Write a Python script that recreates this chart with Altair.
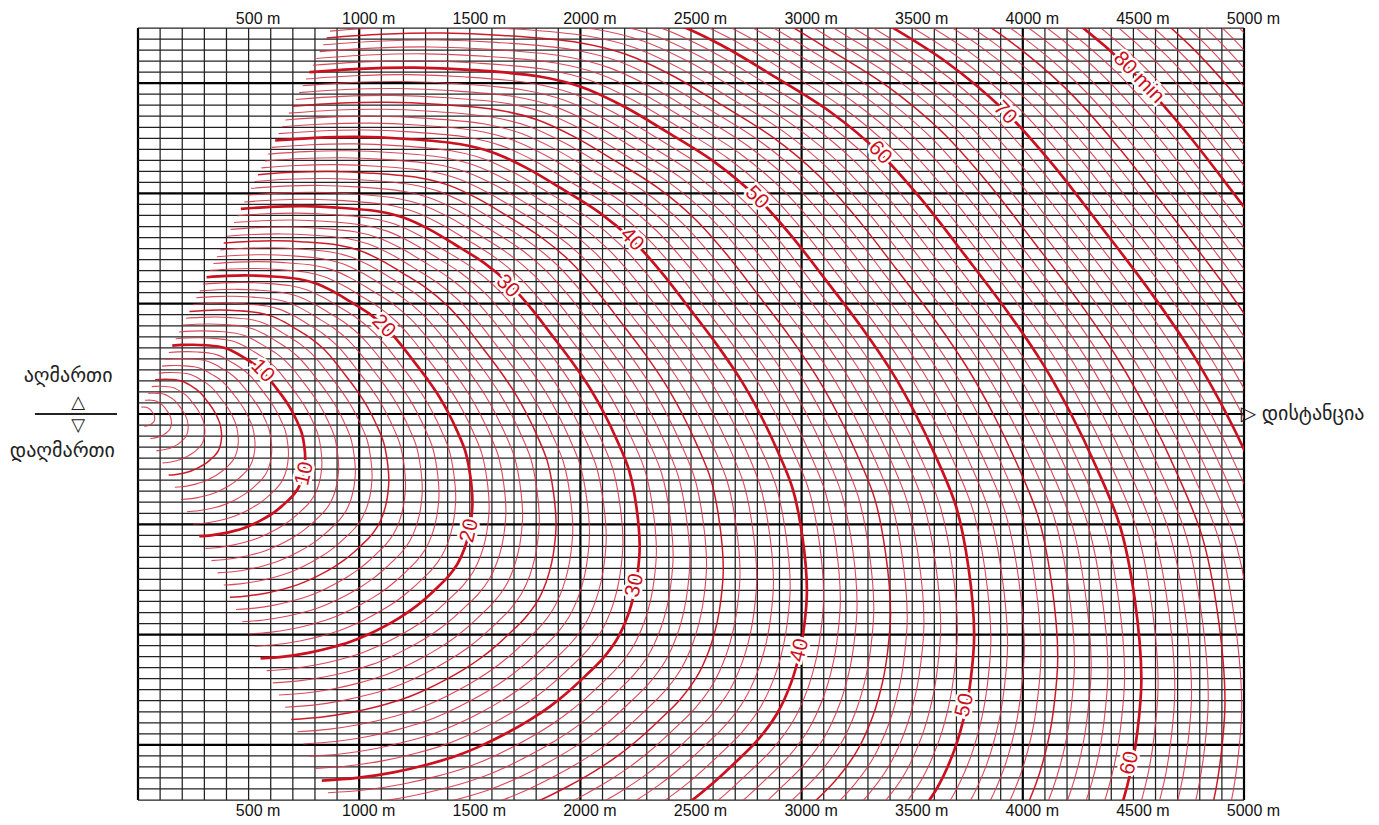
import altair as alt
import pandas as pd

# ---------------- data ----------------
X_TICKS = [500, 1000, 1500, 2000, 2500, 3000, 3500, 4000, 4500, 5000]
Y_TICKS = [-300, -200, -100, 0, 100, 200, 300]

# one isochrone, expressed per 10 minutes of walking (horizontal distance m, height m),
# read along the thick curves, from the 40 % ascent limit to the 40 % descent limit
UNIT_D = [155, 200, 250, 300, 363, 401, 439, 477, 522, 559, 590, 623, 655, 682, 703,
          722, 740, 751, 756, 753, 748, 738, 722, 700, 675, 648, 620, 590, 555, 520,
          480, 435, 385, 330, 277]
UNIT_H = [62.0, 62.6, 62.8, 62.4, 61.2, 59.3, 55.8, 51.3, 45.6, 39.4, 32.5, 24.0, 15.5, 7.5, 0.0,
          -8.0, -17.0, -28.0, -40.0, -48.0, -54.0, -61.0, -68.0, -74.0, -79.0, -84.0, -88.5, -92.5, -96.5, -100.0,
          -103.3, -106.0, -108.3, -110.0, -110.8]
MINUTES = list(range(1, 91))

UP_LABELS = ["10", "20", "30", "40", "50", "60", "70", "80 min"]
UP_LABEL_D = [563, 1110, 1671, 2232, 2797, 3354, 3919, 4524]
UP_LABEL_H = [38.9, 79.6, 115.7, 158.2, 196.2, 236.9, 273.0, 305.0]
LOW_LABELS = ["10", "20", "30", "40", "50", "60"]
LOW_LABEL_D = [753, 1499, 2246, 2992, 3738, 4484]
LOW_LABEL_H = [-54.2, -105.8, -155.5, -214.3, -264.0, -316.5]

LEFT_WORDS = ["აღმართი", "დაღმართი"]
LEFT_WORDS_D = [-316, -342]
LEFT_WORDS_H = [34.4, -33.5]
LEFT_TRI = ["△", "▽"]
LEFT_TRI_D = [-271, -271]
LEFT_TRI_H = [10.0, -10.8]
RIGHT_TEXT = ["▷", "დისტანცია"]
RIGHT_TEXT_D = [4985, 5080]
RIGHT_TEXT_H = [0, 0]
DIVIDER_D = [-466]
DIVIDER_D2 = [-95]

# ---------------- tables ----------------
FONT = "Liberation Sans"
GEO_FONT = "DejaVu Sans"
RED = "#cc1020"
RED_THIN = "#d6364a"

vg = pd.DataFrame({"d": list(range(0, 5001, 100))})
vg["sw"] = [2.2 if v % 1000 == 0 else 1.25 for v in vg["d"]]
vg["col"] = ["#000000" if v % 1000 == 0 else "#222222" for v in vg["d"]]

hg = pd.DataFrame({"h": list(range(-350, 351, 10))})
hg["sw"] = [2.2 if v % 100 == 0 else 1.25 for v in hg["h"]]
hg["col"] = ["#000000" if v % 100 == 0 else "#222222" for v in hg["h"]]

rows = []
for T in MINUTES:
    kind = "thick" if T % 10 == 0 else ("mid" if T % 5 == 0 else "thin")
    for i, (ud, uh) in enumerate(zip(UNIT_D, UNIT_H)):
        rows.append({"T": T, "i": i, "d": ud * T / 10.0, "h": uh * T / 10.0, "kind": kind})
curves = pd.DataFrame(rows)

up_lab = pd.DataFrame({"t": UP_LABELS, "d": UP_LABEL_D, "h": UP_LABEL_H})
low_lab = pd.DataFrame({"t": LOW_LABELS, "d": LOW_LABEL_D, "h": LOW_LABEL_H})
left_words = pd.DataFrame({"t": LEFT_WORDS, "d": LEFT_WORDS_D, "h": LEFT_WORDS_H})
left_tri = pd.DataFrame({"t": LEFT_TRI, "d": LEFT_TRI_D, "h": LEFT_TRI_H})
right_txt = pd.DataFrame({"t": RIGHT_TEXT, "d": RIGHT_TEXT_D, "h": RIGHT_TEXT_H})
divider = pd.DataFrame({"d": DIVIDER_D, "d2": DIVIDER_D2, "h": [0]})

xs = alt.Scale(domain=[0, 5000], nice=False, zero=False)
ys = alt.Scale(domain=[-350, 350], nice=False, zero=False)


def X(axis=None, field="d:Q"):
    return alt.X(field, scale=xs, axis=axis)


def Y(axis=None, field="h:Q"):
    return alt.Y(field, scale=ys, axis=axis)


def xaxis(orient):
    return alt.Axis(orient=orient, values=X_TICKS, labelExpr="datum.value + ' m'",
                    ticks=False, domain=False, grid=False, title=None,
                    labelFont=FONT, labelFontSize=16, labelColor="#111111",
                    labelPadding=2, labelOffset=9, labelFlush=False, labelOverlap=False)


yaxis = alt.Axis(orient="left", values=Y_TICKS,
                 labelExpr="datum.value > 0 ? '+ ' + datum.value + ' m' : (datum.value < 0 ? '\u2013 ' + (-datum.value) + ' m' : '0')",
                 ticks=False, domain=False, grid=False, title=None,
                 labelFont=FONT, labelFontSize=15, labelColor="#111111", labelPadding=4,
                 labelOverlap=False)

vgrid = alt.Chart(vg).mark_rule().encode(
    x=X(xaxis("bottom")),
    strokeWidth=alt.StrokeWidth("sw:Q", scale=None),
    color=alt.Color("col:N", scale=None),
)
vgrid_top = alt.Chart(vg).mark_rule(opacity=0).encode(x=X(xaxis("top")))
hgrid = alt.Chart(hg).mark_rule().encode(
    y=Y(yaxis),
    strokeWidth=alt.StrokeWidth("sw:Q", scale=None),
    color=alt.Color("col:N", scale=None),
)


def curve_layer(kind, width, color, opacity):
    return alt.Chart(curves[curves["kind"] == kind]).mark_line(
        clip=True, interpolate="catmull-rom", strokeWidth=width, color=color,
        opacity=opacity, strokeCap="butt"
    ).encode(x=X(), y=Y(), detail="T:N", order="i:Q")


thin = curve_layer("thin", 1.1, RED_THIN, 0.9)
mid = curve_layer("mid", 1.5, RED, 0.95)
thick = curve_layer("thick", 2.7, RED, 1.0)


def label_layers(df, angle):
    halo = alt.Chart(df).mark_text(font=FONT, fontSize=21, angle=angle, color="white",
                                   stroke="white", strokeWidth=5, align="center",
                                   baseline="middle").encode(x=X(), y=Y(), text="t:N")
    txt = alt.Chart(df).mark_text(font=FONT, fontSize=21, angle=angle, color=RED,
                                  align="center", baseline="middle").encode(x=X(), y=Y(), text="t:N")
    return [halo, txt]


left_geo = alt.Chart(left_words).mark_text(
    font=GEO_FONT, fontSize=20, color="#222222", align="center", baseline="middle"
).encode(x=X(), y=Y(), text="t:N")
left_tri_t = alt.Chart(left_tri).mark_text(
    font=GEO_FONT, fontSize=18, color="#222222", align="center", baseline="middle", fontWeight="bold"
).encode(x=X(), y=Y(), text="t:N")
right_t = alt.Chart(right_txt).mark_text(
    font=GEO_FONT, fontSize=20, color="#222222", align="left", baseline="middle"
).encode(x=X(), y=Y(), text="t:N")
div_rule = alt.Chart(divider).mark_rule(color="#222222", strokeWidth=1.8).encode(
    x=X(), x2="d2:Q", y=Y()
)

layers = [vgrid, vgrid_top, hgrid, thin, mid, thick]
layers += label_layers(up_lab, 46)
layers += label_layers(low_lab, 283)
layers += [left_geo, left_tri_t, right_t, div_rule]

chart = alt.layer(*layers).resolve_axis(x="independent").properties(
    width=1106, height=772,
    padding={"left": 130, "top": 20, "right": 120, "bottom": 17},
    autosize=alt.AutoSizeParams(type="none"),
    background="white",
).configure_view(stroke=None)

chart.save("out.html", embed_options={"renderer": "svg", "actions": False})
